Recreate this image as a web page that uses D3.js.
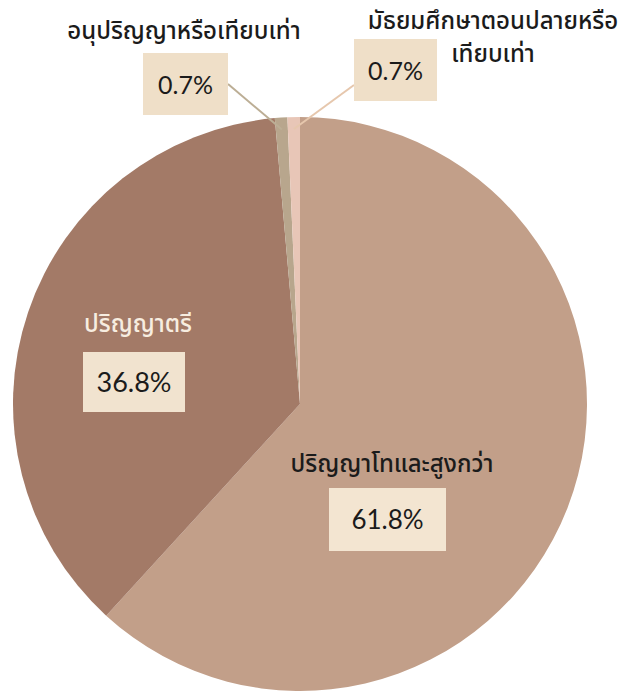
<!DOCTYPE html>
<html>
<head>
<meta charset="utf-8">
<script src="https://cdn.jsdelivr.net/npm/d3@7"></script>
<style>
  html, body { margin: 0; padding: 0; background: #ffffff; }
  svg { display: block; }
</style>
</head>
<body>
<svg id="chart" width="619" height="691"></svg>
<script>
// Education level shares
const categories = [
  "ปริญญาโทและสูงกว่า",
  "ปริญญาตรี",
  "อนุปริญญาหรือเทียบเท่า",
  "มัธยมศึกษาตอนปลายหรือเทียบเท่า"
];
const values = [61.8, 36.8, 0.7, 0.7];
const valueLabels = ["61.8%", "36.8%", "0.7%", "0.7%"];

const sliceColors = ["#c29f89", "#a37a67", "#b8a68d", "#e8c6b7"];
const leaderColors = [null, null, "#bcae95", "#e6c7ad"];

const W = 619, H = 691;
const cx = 300, cy = 404, R = 287;
const thaiFont = "'Noto Sans Thai', 'Noto Sans Thai Looped', Tahoma, 'Noto Sans', sans-serif";
const numFont = "Lato, 'Noto Sans', sans-serif";

const svg = d3.select("#chart");
const g = svg.append("g").attr("transform", `translate(${cx},${cy})`);

const pie = d3.pie().sort(null).value(d => d);
const arcs = pie(values);
const arc = d3.arc().innerRadius(0).outerRadius(R);

g.selectAll("path.slice")
  .data(arcs)
  .join("path")
  .attr("class", "slice")
  .attr("d", arc)
  .attr("fill", (d, i) => sliceColors[i]);

// Label layout (page coordinates): name lines, value box, colours
const layout = [
  { lines: [categories[0]], nameX: 392, nameY: 472, nameFill: "#1b1b1b",
    box: [329, 488, 117, 63], boxFill: "#f3e5d1", numSize: 26 },
  { lines: [categories[1]], nameX: 138, nameY: 332, nameFill: "#f7ede0",
    box: [83, 352, 102, 60], boxFill: "#f1e3cf", numSize: 27 },
  { lines: [categories[2]], nameX: 184, nameY: 39, nameFill: "#1b1b1b",
    box: [143, 53, 85, 62], boxFill: "#efdfc8", numSize: 25 },
  { lines: ["มัธยมศึกษาตอนปลายหรือ", "เทียบเท่า"], nameX: 493, nameY: 29, nameFill: "#1b1b1b",
    lineGap: 33, box: [354, 39, 83, 62], boxFill: "#efdfc8", numSize: 25 }
];

// Leader lines for the thin slices
const lineArc = d3.arc().innerRadius(R - 12).outerRadius(R - 12);
arcs.forEach((d, i) => {
  if (!leaderColors[i]) return;
  const [px, py] = lineArc.centroid(d);
  const L = layout[i];
  const [bx, by, bw, bh] = L.box;
  const sx = i === 2 ? bx + bw : bx;
  const sy = i === 2 ? by + 31 : by + 46;
  svg.append("line")
    .attr("x1", sx).attr("y1", sy)
    .attr("x2", cx + px).attr("y2", cy + py)
    .attr("stroke", leaderColors[i])
    .attr("stroke-width", 2);
});

layout.forEach((L, i) => {
  const [bx, by, bw, bh] = L.box;
  svg.append("rect")
    .attr("x", bx).attr("y", by)
    .attr("width", bw).attr("height", bh)
    .attr("fill", L.boxFill);
  svg.append("text")
    .attr("x", bx + bw / 2).attr("y", by + bh / 2 + 9.5)
    .attr("text-anchor", "middle")
    .attr("font-family", numFont)
    .attr("font-size", L.numSize)
    .attr("fill", "#1b1b1b")
    .text(valueLabels[i]);
  L.lines.forEach((t, k) => {
    svg.append("text")
      .attr("x", L.nameX).attr("y", L.nameY + k * (L.lineGap || 0))
      .attr("text-anchor", "middle")
      .attr("font-family", thaiFont)
      .attr("font-weight", 500)
      .attr("font-size", 24)
      .attr("fill", L.nameFill)
      .text(t);
  });
});
</script>
</body>
</html>
